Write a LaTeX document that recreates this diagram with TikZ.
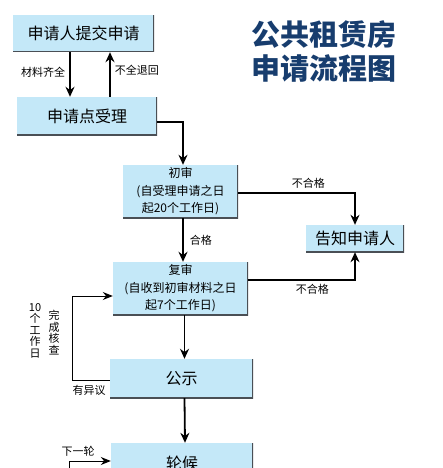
\documentclass[tikz,border=0pt]{standalone}
\usepackage{fontspec}
\setmainfont{Noto Sans CJK SC}
\usepackage{tikz}
\usetikzlibrary{arrows.meta,positioning,calc}
\definecolor{clBox}{HTML}{C4E8F8}
\definecolor{clEdge}{HTML}{4A4F55}
\definecolor{clTitle}{HTML}{173D6E}
\tikzset{
  box/.style={rectangle, fill=clBox, align=center, inner sep=0pt,
              font=\fontsize{16}{19}\selectfont,
              path picture={\draw[clEdge, line width=2.6pt]
                (path picture bounding box.north east) -- (path picture bounding box.south east)
                -- (path picture bounding box.south west);}},
  stagebox/.style={box, font=\fontsize{12}{17.5}\selectfont},
  flow/.style={-{Stealth[length=10pt,width=9pt]}, line width=1.8pt},
  side/.style={-{Stealth[length=10pt,width=9pt]}, line width=1.2pt},
  thinflow/.style={-{Stealth[length=10pt,width=8pt]}, line width=1pt},
  flowlabel/.style={font=\fontsize{11}{12}\selectfont, inner sep=1pt},
}
\begin{document}
\begin{tikzpicture}[x=1pt, y=-1pt]
  \useasboundingbox (0,0) rectangle (442,468);
  \clip (0,0) rectangle (442,468);
  % boxes
  \node[box, minimum width=141pt, minimum height=37pt] (req) at (83.5,33.5) {申请人提交申请};
  \node[box, minimum width=140pt, minimum height=38pt] (accept) at (87,116) {申请点受理};
  \node[stagebox, minimum width=115pt, minimum height=53pt] (first) at (180.5,191.5)
    {初审\\(自受理申请之日\\起20个工作日)};
  \node[stagebox, minimum width=135pt, minimum height=53pt] (second) at (180.5,288.5)
    {复审\\(自收到初审材料之日\\起7个工作日)};
  \node[box, minimum width=98pt, minimum height=27pt] (notify) at (355,238.5) {告知申请人};
  \node[box, minimum width=143pt, minimum height=39pt] (publish) at (181.5,378.5) {公示};
  \node[box, minimum width=142pt, minimum height=40pt] (queue) at (182,463) {轮候};
  % title
  \node[text=clTitle, font=\fontsize{29}{34}\selectfont\bfseries, align=left] (title) at (323.5,51)
    {公共租赁房\\申请流程图};
  % connectors
  \draw[flow] ([xshift=-13.5pt]req.south) -- node[flowlabel, left=3pt, pos=0.45]{材料齐全} ([xshift=-17pt]accept.north);
  \draw[flow] ([xshift=23pt]accept.north) -- node[flowlabel, right=3pt, pos=0.6]{不全退回} ([xshift=23pt]accept.north |- req.south);
  \draw[side] ([yshift=-6pt]accept.east) -| ([xshift=2.5pt]first.north);
  \draw[flow] ([xshift=2.5pt]first.south) -- node[flowlabel, right=5pt]{合格} ([xshift=2.5pt]second.north);
  \draw[side] ([yshift=-1.5pt]first.east) -| node[flowlabel, above=3pt, pos=0.3]{不合格} (notify.north);
  \draw[side] ([yshift=8.5pt]second.east) -| node[flowlabel, below=3pt, pos=0.3]{不合格} (notify.south);
  \draw[flow] ([xshift=4pt]second.south) -- ([xshift=3pt]publish.north);
  \draw[flow] ([xshift=3pt]publish.south) -- ([xshift=3pt]queue.north);
  % objection loop
  \coordinate (bend) at (72,380);
  \draw[thinflow] ([yshift=-1.5pt]publish.west) -- (bend) |- ([yshift=-7.5pt]second.west);
  \node[flowlabel, anchor=north] (objlbl) at (89,384) {有异议};
  \node[flowlabel, align=center, font=\fontsize{11}{11.5}\selectfont, anchor=north] (daylbl) at (35,302) {10\\个\\工\\作\\日};
  \node[flowlabel, align=center, font=\fontsize{11}{11.5}\selectfont, anchor=north] (checklbl) at (54,309) {完\\成\\核\\查};
  % next round
  \coordinate (nextin) at (69,480);
  \draw[thinflow] (nextin) |- ([yshift=2pt]queue.west);
  \node[flowlabel] (nextlbl) at (78,451) {下一轮};
\end{tikzpicture}
\end{document}
